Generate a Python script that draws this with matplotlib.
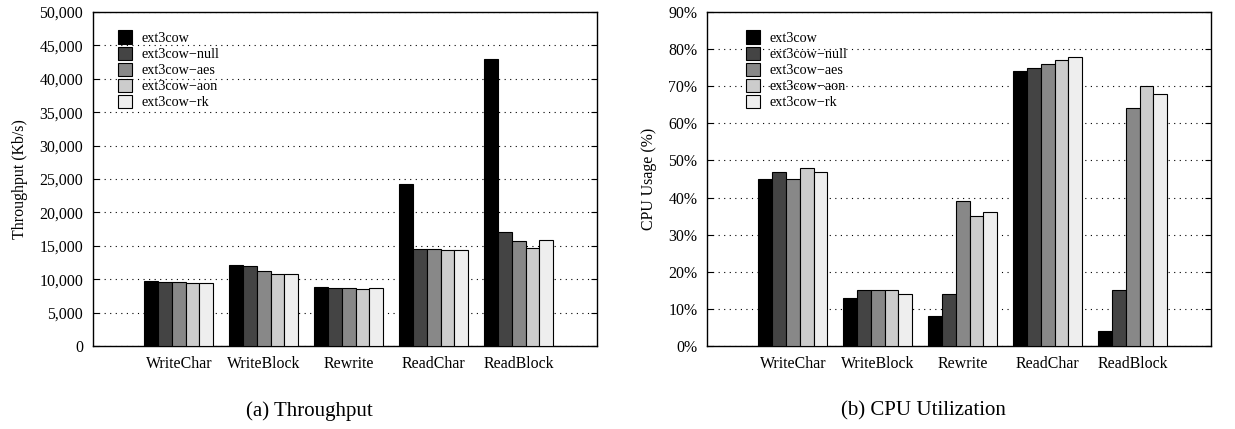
import matplotlib

matplotlib.use("Agg")
import matplotlib.pyplot as plt
from matplotlib.ticker import FuncFormatter
import numpy as np

plt.rcParams["font.family"] = ["Liberation Serif", "DejaVu Serif"]
plt.rcParams["font.size"] = 11.4

categories = ["WriteChar", "WriteBlock", "Rewrite", "ReadChar", "ReadBlock"]
series = ["ext3cow", "ext3cow\u2212null", "ext3cow\u2212aes", "ext3cow\u2212aon", "ext3cow\u2212rk"]
colors = ["#000000", "#444444", "#888888", "#cccccc", "#eeeeee"]

throughput = [
    [9750, 12150, 8800, 24200, 43000],   # ext3cow
    [9650, 11900, 8700, 14550, 17000],   # null
    [9650, 11250, 8700, 14550, 15700],   # aes
    [9400, 10800, 8550, 14350, 14700],   # aon
    [9400, 10800, 8650, 14350, 15800],   # rk
]
cpu = [
    [45, 13, 8, 74, 4],
    [47, 15, 14, 75, 15],
    [45, 15, 39, 76, 64],
    [48, 15, 35, 77, 70],
    [47, 14, 36, 78, 68],
]


def draw_panel(ax, data, ymax, ystep, fmt, ylabel, caption, legend_x):
    x = np.arange(len(categories))
    width = 0.162
    for i, vals in enumerate(data):
        ax.bar(x + (i - 2) * width, vals, width, color=colors[i], edgecolor="black",
               linewidth=0.8, label=series[i], zorder=3)
    ax.set_xlim(-1.01, 4.92)
    ax.set_ylim(0, ymax)
    ax.set_yticks(np.arange(0, ymax + 1, ystep))
    ax.yaxis.set_major_formatter(FuncFormatter(fmt))
    ax.set_xticks(x)
    ax.set_xticklabels(categories)
    ax.tick_params(axis="x", length=0, pad=7)
    ax.tick_params(axis="y", direction="in", right=True, length=4, width=0.8, pad=7)
    ax.yaxis.grid(True, linestyle=(0, (1, 4)), color="black", linewidth=0.8)
    ax.set_axisbelow(True)
    for s in ax.spines.values():
        s.set_linewidth(1.0)
    ax.set_ylabel(ylabel, labelpad=8)
    ax.legend(loc="upper left", bbox_to_anchor=(legend_x, 0.97), frameon=False,
              fontsize=10.2, handlelength=1.0, handleheight=1.05, handletextpad=0.7,
              labelspacing=0.12, borderaxespad=0.2)
    ax.text(0.43, -0.165, caption, transform=ax.transAxes, ha="center", va="top", fontsize=15)


fig = plt.figure(figsize=(12.35, 4.29), dpi=100)
ax1 = fig.add_axes([0.0753, 0.1935, 0.408, 0.7786])
ax2 = fig.add_axes([0.5725, 0.1935, 0.408, 0.7786])

draw_panel(ax1, throughput, 50000, 5000, lambda v, p: f"{int(v):,}",
           "Throughput (Kb/s)", "(a) Throughput", 0.032)
draw_panel(ax2, cpu, 90, 10, lambda v, p: f"{int(v)}%",
           "CPU Usage (%)", "(b) CPU Utilization", 0.06)

fig.savefig("out.png", dpi=100)
plt.close(fig)
